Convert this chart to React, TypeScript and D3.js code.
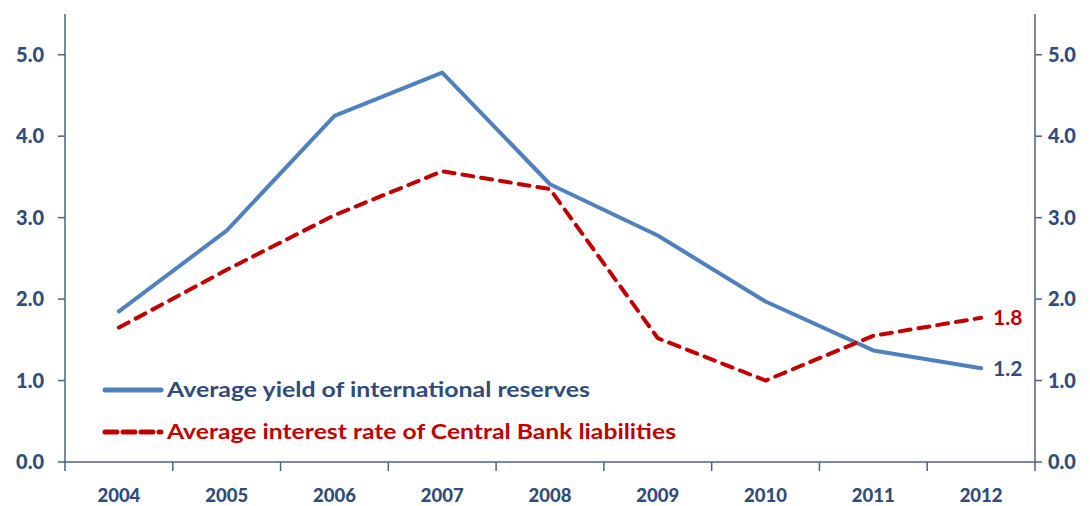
import React from "react";
import * as d3 from "d3";

const years = ["2004", "2005", "2006", "2007", "2008", "2009", "2010", "2011", "2012"];
const yieldReserves = [1.85, 2.84, 4.25, 4.78, 3.41, 2.78, 1.97, 1.37, 1.15];
const rateLiabilities = [1.65, 2.36, 3.03, 3.57, 3.35, 1.52, 1.0, 1.55, 1.77];
const yTicks = [0, 1, 2, 3, 4, 5];
const seriesNames = ["Average yield of international reserves", "Average interest rate of Central Bank liabilities"];
const endLabels = ["1.2", "1.8"];

const W = 1090;
const H = 506;
const left = 65;
const right = 1035;
const top = 14;
const bottom = 462;

const BLUE = "#4F81BD";
const RED = "#C00000";
const TEXT = "#2F4C7A";
const AXIS = "#4F627E";
const FONT = "Lato, 'Open Sans', sans-serif";

export default function App() {
  const x = d3.scaleBand<string>().domain(years).range([left, right]);
  const y = d3.scaleLinear().domain([0, 5.5]).range([bottom, top]);
  const cx = (yr: string) => (x(yr) as number) + x.bandwidth() / 2;
  const line = d3
    .line<number>()
    .x((_, i) => cx(years[i]))
    .y((d) => y(d));
  const boundaries = years.map((yr) => x(yr) as number).concat([right]);

  return (
    <svg width={W} height={H} style={{ position: "absolute", left: 0, top: 0, background: "#fff" }}>
      {/* axes */}
      <line x1={left} x2={left} y1={top} y2={bottom} stroke={AXIS} strokeWidth={1.5} />
      <line x1={right} x2={right} y1={top} y2={bottom} stroke={AXIS} strokeWidth={1.5} />
      <line x1={left} x2={right} y1={bottom} y2={bottom} stroke={AXIS} strokeWidth={1.5} />
      {yTicks.map((t) => (
        <g key={"yt" + t}>
          <line x1={left - 7} x2={left} y1={y(t)} y2={y(t)} stroke={AXIS} strokeWidth={1.5} />
          <line x1={right} x2={right + 7} y1={y(t)} y2={y(t)} stroke={AXIS} strokeWidth={1.5} />
          <text x={44} y={y(t)} dy="0.35em" textAnchor="end" fontFamily={FONT} fontWeight="900" fontSize={20} fill={TEXT}>
            {t.toFixed(1)}
          </text>
          <text x={1048} y={y(t)} dy="0.35em" textAnchor="start" fontFamily={FONT} fontWeight="900" fontSize={20} fill={TEXT}>
            {t.toFixed(1)}
          </text>
        </g>
      ))}
      {boundaries.map((b, i) => (
        <line key={"xt" + i} x1={b} x2={b} y1={bottom} y2={bottom + 9} stroke={AXIS} strokeWidth={1.5} />
      ))}
      {years.map((yr) => (
        <text key={yr} x={cx(yr)} y={496} dy="0.35em" textAnchor="middle" fontFamily={FONT} fontWeight="900" fontSize={18.5} fill={TEXT}>
          {yr}
        </text>
      ))}

      {/* series */}
      <path d={line(yieldReserves) || ""} fill="none" stroke={BLUE} strokeWidth={4} strokeLinejoin="round" strokeLinecap="round" />
      <path
        d={line(rateLiabilities) || ""}
        fill="none"
        stroke={RED}
        strokeWidth={4}
        strokeDasharray="11 8"
        strokeLinejoin="round"
        strokeLinecap="round"
      />

      {/* end labels */}
      <text x={993} y={y(yieldReserves[yieldReserves.length - 1])} dy="0.35em" fontFamily={FONT} fontWeight="bold" fontSize={21} fill={TEXT}>
        {endLabels[0]}
      </text>
      <text x={993} y={y(rateLiabilities[rateLiabilities.length - 1])} dy="0.35em" fontFamily={FONT} fontWeight="bold" fontSize={21} fill={RED}>
        {endLabels[1]}
      </text>

      {/* legend */}
      <line x1={105} x2={161} y1={390} y2={390} stroke={BLUE} strokeWidth={5} strokeLinecap="round" />
      <text x={167} y={390} dy="0.35em" fontFamily={FONT} fontWeight="bold" fontSize={21} fill={TEXT} textLength={423} lengthAdjust="spacingAndGlyphs">
        {seriesNames[0]}
      </text>
      <line x1={105} x2={161} y1={432} y2={432} stroke={RED} strokeWidth={5} strokeDasharray="12 6" strokeLinecap="round" />
      <text x={167} y={432} dy="0.35em" fontFamily={FONT} fontWeight="bold" fontSize={21} fill={RED} textLength={509} lengthAdjust="spacingAndGlyphs">
        {seriesNames[1]}
      </text>
    </svg>
  );
}
